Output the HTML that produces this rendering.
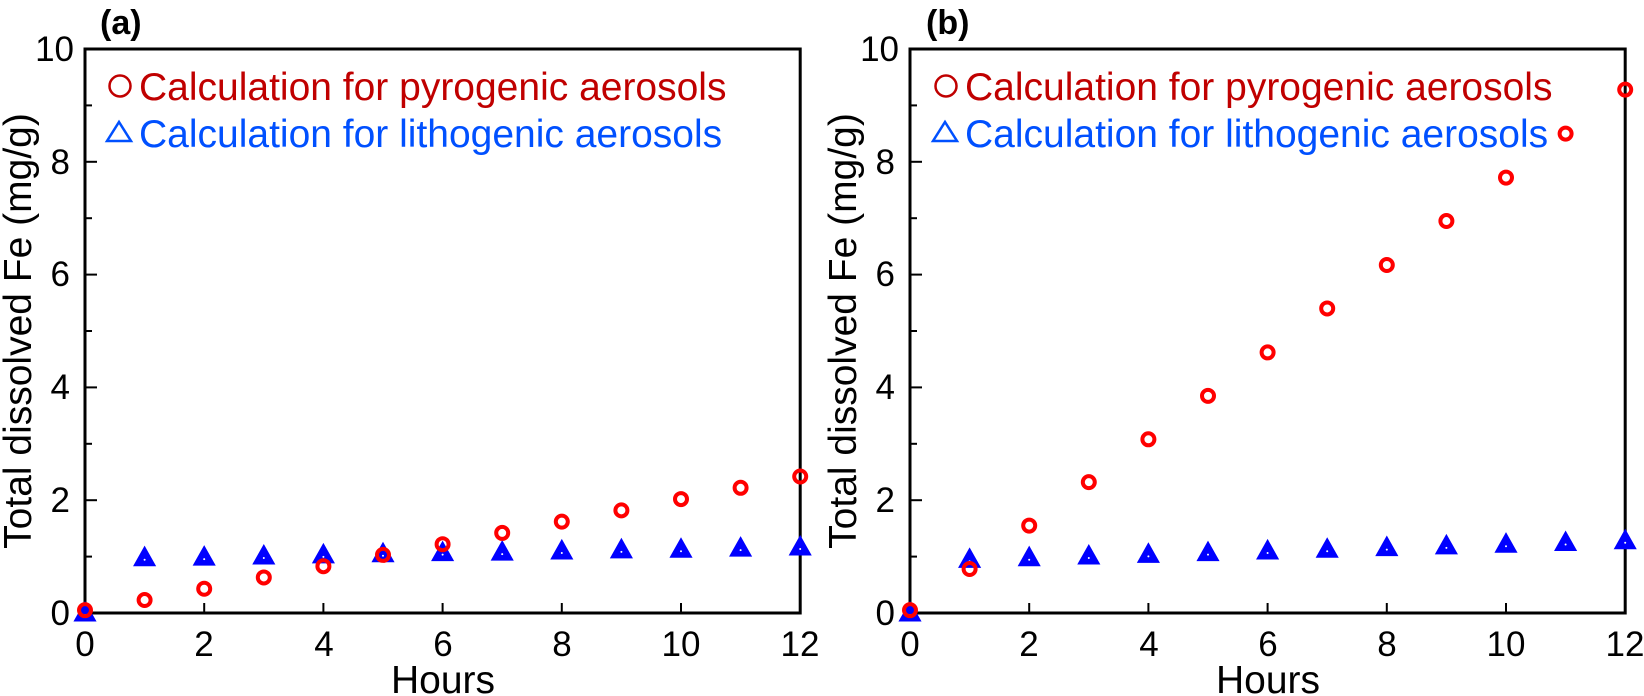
<!DOCTYPE html>
<html><head><meta charset="utf-8"><style>
html,body{margin:0;padding:0;background:#fff;}
svg{display:block;font-family:"Liberation Sans",Arial,sans-serif;}
</style></head><body>
<svg id="s" width="1644" height="696" viewBox="0 0 1644 696" xmlns="http://www.w3.org/2000/svg">
<g font-size="35" fill="#000">
<text x="70" y="625" text-anchor="end">0</text>
<text x="70" y="512" text-anchor="end">2</text>
<text x="70" y="399" text-anchor="end">4</text>
<text x="70" y="286" text-anchor="end">6</text>
<text x="70" y="174" text-anchor="end">8</text>
<text x="74" y="61" text-anchor="end">10</text>
<text x="895" y="625" text-anchor="end">0</text>
<text x="895" y="512" text-anchor="end">2</text>
<text x="895" y="399" text-anchor="end">4</text>
<text x="895" y="286" text-anchor="end">6</text>
<text x="895" y="174" text-anchor="end">8</text>
<text x="899" y="61" text-anchor="end">10</text>
<text x="85" y="656" text-anchor="middle">0</text>
<text x="204" y="656" text-anchor="middle">2</text>
<text x="324" y="656" text-anchor="middle">4</text>
<text x="443" y="656" text-anchor="middle">6</text>
<text x="562" y="656" text-anchor="middle">8</text>
<text x="681" y="656" text-anchor="middle">10</text>
<text x="800" y="656" text-anchor="middle">12</text>
<text x="910" y="656" text-anchor="middle">0</text>
<text x="1029" y="656" text-anchor="middle">2</text>
<text x="1149" y="656" text-anchor="middle">4</text>
<text x="1268" y="656" text-anchor="middle">6</text>
<text x="1387" y="656" text-anchor="middle">8</text>
<text x="1506" y="656" text-anchor="middle">10</text>
<text x="1625" y="656" text-anchor="middle">12</text>
</g>
<g font-size="39">
<text x="443" y="693" text-anchor="middle">Hours</text>
<text x="1268" y="693" text-anchor="middle">Hours</text>
<text transform="translate(31,331) rotate(-90)" text-anchor="middle">Total dissolved Fe (mg/g)</text>
<text transform="translate(856,331) rotate(-90)" text-anchor="middle">Total dissolved Fe (mg/g)</text>
</g>
<g font-size="34" font-weight="bold">
<text x="100" y="34">(a)</text>
<text x="926" y="34">(b)</text>
</g>
<g font-size="39">
<text x="139" y="100" fill="#c00000">Calculation for pyrogenic aerosols</text>
<text x="139" y="147" fill="#0050ff">Calculation for lithogenic aerosols</text>
<text x="965" y="100" fill="#c00000">Calculation for pyrogenic aerosols</text>
<text x="965" y="147" fill="#0050ff">Calculation for lithogenic aerosols</text>
</g>
<circle cx="120" cy="86" r="10.5" fill="none" stroke="#c00000" stroke-width="2.5"/>
<path d="M107 141 L119 122 L131 141 Z" fill="none" stroke="#0050ff" stroke-width="2.5"/>
<circle cx="946" cy="86" r="10.5" fill="none" stroke="#c00000" stroke-width="2.5"/>
<path d="M933 141 L945 122 L957 141 Z" fill="none" stroke="#0050ff" stroke-width="2.5"/>
<g id="g"></g>
</svg>
<script>
var g=document.getElementById('g'),h='';
function panel(x0,red,blue){
 var y0=613,sy=56.4,sx=59.6,x1=x0+12*sx,y1=y0-10*sy;
 h+='<rect x="'+x0+'" y="'+y1+'" width="'+(x1-x0)+'" height="'+(y0-y1)+'" fill="none" stroke="#000" stroke-width="3"/>';
 for(var i=1;i<10;i++){var y=y0-i*sy,l=i%2?7:12;h+='<line x1="'+x0+'" x2="'+(x0+l)+'" y1="'+y+'" y2="'+y+'" stroke="#000" stroke-width="2"/>';}
 for(var i=2;i<12;i+=2){var x=x0+i*sx;h+='<line x1="'+x+'" x2="'+x+'" y1="'+y0+'" y2="'+(y0-10)+'" stroke="#000" stroke-width="2"/>';}
 for(var i=0;i<13;i++){var x=x0+i*sx,y=y0-blue[i]*sy;
  h+='<path d="M'+(x-9)+' '+(y+7)+' L'+x+' '+(y-9)+' L'+(x+9)+' '+(y+7)+' Z" fill="#0000ff" stroke="#0000ff" stroke-width="3" stroke-linejoin="miter"/><circle cx="'+x+'" cy="'+(y+2)+'" r="1" fill="#fff"/>';}
 for(var i=0;i<13;i++){var x=x0+i*sx,y=y0-red[i]*sy;
  h+='<circle cx="'+x+'" cy="'+y+'" r="6" fill="none" stroke="#ff0000" stroke-width="4"/>';}
}
panel(85,[0.05,0.23,0.43,0.63,0.83,1.03,1.22,1.42,1.62,1.82,2.02,2.22,2.42],[0,0.98,0.99,1.01,1.03,1.05,1.07,1.08,1.1,1.12,1.13,1.15,1.17]);
panel(910,[0.05,0.78,1.55,2.32,3.08,3.85,4.62,5.4,6.17,6.95,7.72,8.5,9.28],[0,0.95,0.98,1.01,1.04,1.07,1.1,1.13,1.16,1.19,1.22,1.25,1.28]);
g.innerHTML=h;
</script>
</body></html>
